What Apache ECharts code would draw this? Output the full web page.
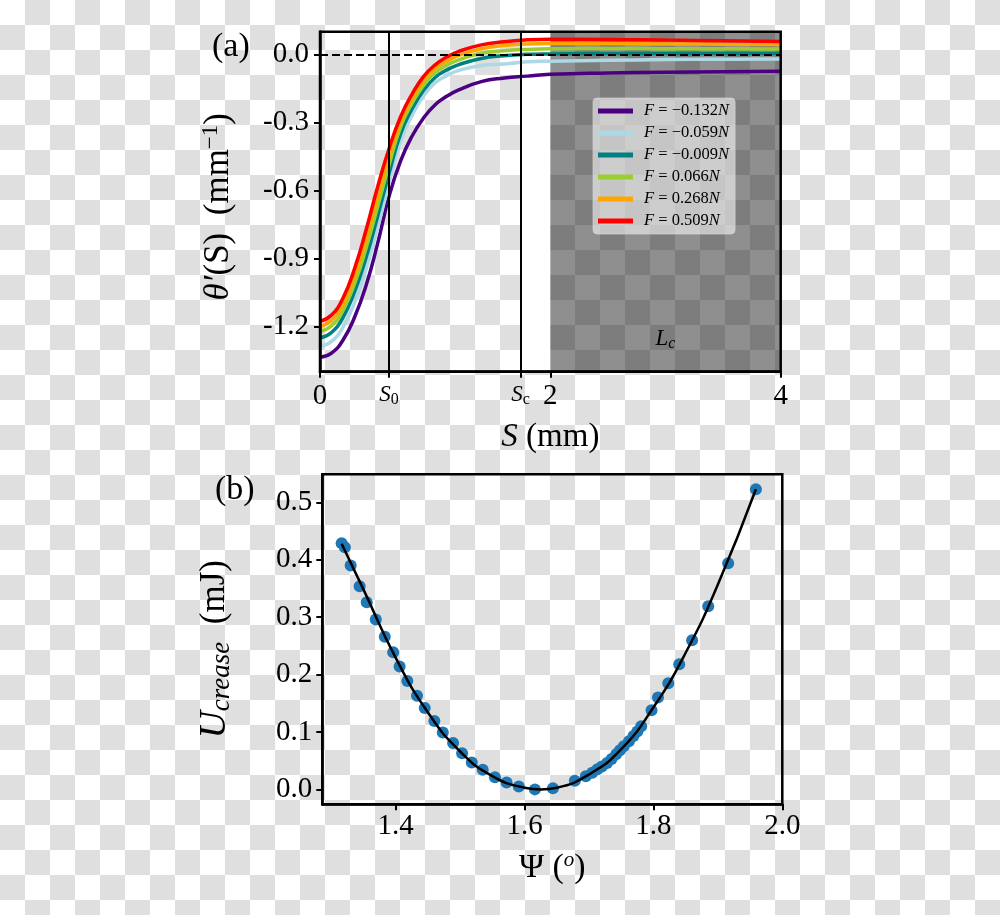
<!DOCTYPE html>
<html><head><meta charset="utf-8">
<script src="https://cdn.jsdelivr.net/npm/echarts@6/dist/echarts.min.js"></script>
<style>
html,body{margin:0;padding:0;}
body{width:1000px;height:915px;background:repeating-conic-gradient(#dfdfdf 0% 25%, #ffffff 0% 50%) 0 0/50px 50px;}
#c{width:1000px;height:915px;}
</style></head><body><div id="c"></div>
<script>
// ---- panel (a) data ----
const sGrid = [0, 0.1, 0.2, 0.3, 0.4, 0.5, 0.6, 0.7, 0.8, 0.9, 1.0, 1.1, 1.2, 1.4, 1.6, 1.8, 2.0, 2.5, 3.0, 3.5, 4.0];
const thetaM0132 = [-1.336, -1.318, -1.260, -1.160, -1.020, -0.835, -0.625, -0.470, -0.360, -0.280, -0.222, -0.185, -0.158, -0.120, -0.104, -0.096, -0.088, -0.082, -0.079, -0.077, -0.075];
const thetaM0059 = [-1.288, -1.266, -1.203, -1.095, -0.948, -0.765, -0.568, -0.382, -0.268, -0.183, -0.125, -0.094, -0.072, -0.049, -0.042, -0.033, -0.030, -0.026, -0.023, -0.021, -0.020];
const thetaM0009 = [-1.251, -1.227, -1.160, -1.048, -0.897, -0.715, -0.525, -0.350, -0.240, -0.158, -0.102, -0.069, -0.046, -0.018, -0.006, 0.000, 0.002, 0.004, 0.004, 0.004, 0.004];
const thetaP0066 = [-1.222, -1.197, -1.128, -1.012, -0.855, -0.672, -0.487, -0.320, -0.215, -0.136, -0.081, -0.048, -0.025, 0.005, 0.016, 0.022, 0.025, 0.026, 0.025, 0.025, 0.024];
const thetaP0268 = [-1.200, -1.173, -1.100, -0.978, -0.815, -0.630, -0.450, -0.298, -0.195, -0.116, -0.062, -0.030, -0.006, 0.025, 0.039, 0.046, 0.048, 0.048, 0.046, 0.045, 0.043];
const thetaP0509 = [-1.178, -1.150, -1.075, -0.945, -0.775, -0.585, -0.415, -0.275, -0.175, -0.097, -0.046, -0.012, 0.012, 0.042, 0.056, 0.064, 0.067, 0.066, 0.063, 0.060, 0.057];
const forceLabels = ['\u22120.132', '\u22120.059', '\u22120.009', '0.066', '0.268', '0.509'];
const curveColors = ['#4b0082', '#add8e6', '#008080', '#9acd32', '#ffa500', '#ff0000'];
const sZero = 0.6;
const sCrit = 1.742;
const aXTickValues = [0, 0.6, 1.742, 2, 4];
const aXTickLabels = ['0', '{it|S}{sub|0}', '{it|S}{sub|c}', '2', '4'];
const aYTickValues = [0, -0.3, -0.6, -0.9, -1.2];

// ---- panel (b) data ----
const psi = [1.316, 1.321, 1.330, 1.344, 1.355, 1.369, 1.383, 1.396, 1.406, 1.418, 1.433, 1.445, 1.460, 1.473, 1.489, 1.503, 1.518, 1.535, 1.554, 1.572, 1.591, 1.616, 1.644, 1.678, 1.695, 1.705, 1.713, 1.720, 1.728, 1.735, 1.742, 1.748, 1.754, 1.762, 1.769, 1.775, 1.781, 1.797, 1.807, 1.823, 1.840, 1.860, 1.885, 1.916, 1.959];
const uCrease = [0.429, 0.422, 0.390, 0.354, 0.326, 0.296, 0.266, 0.239, 0.214, 0.189, 0.163, 0.142, 0.119, 0.099, 0.081, 0.063, 0.047, 0.034, 0.021, 0.012, 0.005, 0.000, 0.002, 0.015, 0.023, 0.029, 0.035, 0.040, 0.046, 0.053, 0.061, 0.068, 0.075, 0.084, 0.093, 0.101, 0.110, 0.138, 0.160, 0.185, 0.218, 0.260, 0.319, 0.394, 0.523];
const psiFit = [1.316, 1.35, 1.40, 1.45, 1.50, 1.55, 1.60, 1.625, 1.65, 1.70, 1.75, 1.80, 1.85, 1.90, 1.959];
const uFit = [0.428, 0.348, 0.229, 0.134, 0.066, 0.023, 0.003, 0.000, 0.003, 0.026, 0.070, 0.143, 0.238, 0.357, 0.523];
const bXTickValues = [1.4, 1.6, 1.8, 2.0];
const bYTickValues = [0, 0.1, 0.2, 0.3, 0.4, 0.5];

const curves = [thetaM0132, thetaM0059, thetaM0009, thetaP0066, thetaP0268, thetaP0509];
const FONT = 'Liberation Serif';
const seriesNames = forceLabels.map(f => 'F = ' + f + 'N');

const chart = echarts.init(document.getElementById('c'), null, {renderer: 'canvas'});

const axisLineStyle = {show: true, onZero: false, lineStyle: {color: '#000', width: 2.5}};
const tickStyle = {length: 6, lineStyle: {color: '#000', width: 2}};

const series = [];
// spans + zero dashed line
series.push({
  type: 'line', xAxisIndex: 0, yAxisIndex: 0, data: [], z: 1, silent: true,
  markArea: {
    silent: true,
    data: [
      [{xAxis: sCrit, yAxis: -1.4, itemStyle: {color: '#ffffff', opacity: 1}}, {xAxis: 2, yAxis: 0.1}],
      [{xAxis: 2, yAxis: -1.4, itemStyle: {color: 'rgba(0,0,0,0.44)', opacity: 1},
        label: {show: true, position: 'insideBottom', distance: 20, formatter: '{it|L}{sub|c}',
          rich: {it: {fontFamily: FONT, fontStyle: 'italic', fontSize: 23, lineHeight: 26, color: '#000'},
                 sub: {fontFamily: FONT, fontStyle: 'italic', fontSize: 16, lineHeight: 14, verticalAlign: 'bottom', color: '#000'}}}},
       {xAxis: 4, yAxis: 0.1}]
    ]
  },
  markLine: {
    silent: true, symbol: 'none', label: {show: false},
    lineStyle: {color: '#000', width: 2, type: [8, 4]},
    data: [[{coord: [0, 0]}, {coord: [4, 0]}]]
  }
});
curves.forEach((arr, i) => {
  series.push({
    type: 'line', name: seriesNames[i], xAxisIndex: 0, yAxisIndex: 0,
    data: sGrid.map((s, j) => [s, arr[j]]),
    smooth: 0.5, showSymbol: false, symbol: 'none',
    lineStyle: {color: curveColors[i], width: 3.5}, itemStyle: {color: curveColors[i]},
    z: 3, silent: true
  });
});
// vertical S0 / Sc lines
series.push({
  type: 'line', xAxisIndex: 0, yAxisIndex: 0, data: [], z: 6, silent: true,
  markLine: {
    silent: true, symbol: 'none', label: {show: false},
    lineStyle: {color: '#000', width: 2, type: 'solid'},
    data: [{xAxis: sZero}, {xAxis: sCrit}]
  }
});
// panel (b)
series.push({
  type: 'scatter', xAxisIndex: 1, yAxisIndex: 1,
  data: psi.map((x, i) => [x, uCrease[i]]),
  symbolSize: 12, itemStyle: {color: '#1f77b4', opacity: 1}, z: 2, silent: true
});
series.push({
  type: 'line', xAxisIndex: 1, yAxisIndex: 1,
  data: psiFit.map((x, i) => [x, uFit[i]]),
  smooth: 0.5, showSymbol: false, symbol: 'none',
  lineStyle: {color: '#000', width: 2.5}, z: 3, silent: true
});

const labelBase = {color: '#000', fontFamily: FONT, fontSize: 29};

const option = {
  animation: false,
  backgroundColor: 'transparent',
  textStyle: {fontFamily: FONT},
  grid: [
    {left: 320, top: 31.7, width: 460.7, height: 340, show: true, borderColor: '#000', borderWidth: 2.5, backgroundColor: 'transparent', z: 10},
    {left: 322.3, top: 474.3, width: 460, height: 330, show: true, borderColor: '#000', borderWidth: 2.5, backgroundColor: 'transparent', z: 10}
  ],
  xAxis: [
    {
      type: 'value', gridIndex: 0, min: 0, max: 4, z: 10,
      axisLine: axisLineStyle,
      axisTick: Object.assign({show: true, customValues: aXTickValues}, tickStyle),
      axisLabel: Object.assign({}, labelBase, {
        margin: 10, customValues: aXTickValues,
        formatter: v => { const k = aXTickValues.findIndex(t => Math.abs(t - v) < 1e-9); return k >= 0 ? aXTickLabels[k] : ''; },
        rich: {
          it: {fontFamily: FONT, fontStyle: 'italic', fontSize: 23, lineHeight: 26, color: '#000'},
          sub: {fontFamily: FONT, fontSize: 16, lineHeight: 12, verticalAlign: 'bottom', color: '#000'}
        }
      }),
      splitLine: {show: false},
      name: '{it|S} (mm)', nameLocation: 'middle', nameGap: 49,
      nameTextStyle: {color: '#000', fontFamily: FONT, fontSize: 33,
        rich: {it: {fontFamily: FONT, fontStyle: 'italic', fontSize: 33, color: '#000'}}}
    },
    {
      type: 'value', gridIndex: 1, min: 1.286, max: 2.0, z: 10,
      axisLine: axisLineStyle,
      axisTick: Object.assign({show: true, customValues: bXTickValues}, tickStyle),
      axisLabel: Object.assign({}, labelBase, {margin: 8, customValues: bXTickValues, formatter: v => v.toFixed(1)}),
      splitLine: {show: false},
      name: '\u03a8 ({it|o})', nameLocation: 'middle', nameGap: 46,
      nameTextStyle: {color: '#000', fontFamily: FONT, fontSize: 34, lineHeight: 36,
        rich: {it: {fontFamily: FONT, fontStyle: 'italic', fontSize: 21, lineHeight: 22, verticalAlign: 'top', color: '#000'}}}
    }
  ],
  yAxis: [
    {
      type: 'value', gridIndex: 0, min: -1.4, max: 0.1, z: 10,
      axisLine: axisLineStyle,
      axisTick: Object.assign({show: true, customValues: aYTickValues}, tickStyle),
      axisLabel: Object.assign({}, labelBase, {margin: 11, customValues: aYTickValues, formatter: v => v.toFixed(1)}),
      splitLine: {show: false},
      name: '{it|\u03b8\u2032}(S)  (mm{sup|\u22121})', nameLocation: 'middle', nameGap: 81, nameRotate: 90,
      nameTextStyle: {color: '#000', fontFamily: FONT, fontSize: 35, lineHeight: 40, padding: [0, 10, 0, 0],
        rich: {
          it: {fontFamily: FONT, fontStyle: 'italic', fontSize: 35, lineHeight: 40, color: '#000'},
          sup: {fontFamily: FONT, fontSize: 23, lineHeight: 22, verticalAlign: 'top', color: '#000'}
        }}
    },
    {
      type: 'value', gridIndex: 1, min: -0.026, max: 0.549, z: 10,
      axisLine: axisLineStyle,
      axisTick: Object.assign({show: true, customValues: bYTickValues}, tickStyle),
      axisLabel: Object.assign({}, labelBase, {margin: 10, customValues: bYTickValues, formatter: v => v.toFixed(1)}),
      splitLine: {show: false},
      name: '{U|U}{sub|crease}  (mJ)', nameLocation: 'middle', nameGap: 87, nameRotate: 90,
      nameTextStyle: {color: '#000', fontFamily: FONT, fontSize: 35, lineHeight: 40, padding: [0, 20, 0, 0],
        rich: {
          U: {fontFamily: FONT, fontStyle: 'italic', fontSize: 38, lineHeight: 40, color: '#000'},
          sub: {fontFamily: FONT, fontStyle: 'italic', fontSize: 27, lineHeight: 24, verticalAlign: 'bottom', color: '#000'}
        }}
    }
  ],
  legend: {
    data: seriesNames, orient: 'vertical', left: 593, top: 98, z: 20,
    padding: [4, 6, 4, 5], itemGap: 4, itemWidth: 35, itemHeight: 5, icon: 'rect',
    backgroundColor: 'rgba(255,255,255,0.55)', borderColor: 'rgba(210,210,210,0.7)', borderWidth: 1, borderRadius: 4,
    selectedMode: false,
    formatter: name => '{i|F} = ' + name.slice(4, -1) + '{i|N}',
    textStyle: {color: '#000', fontFamily: FONT, fontSize: 16.5, lineHeight: 18, padding: [0, 0, 0, 6],
      rich: {i: {fontFamily: FONT, fontStyle: 'italic', fontSize: 16.5, lineHeight: 18, color: '#000'}}}
  },
  graphic: [
    {type: 'text', left: 212, top: 30, style: {text: '(a)', font: '34px "Liberation Serif"', fill: '#000'}},
    {type: 'text', left: 215, top: 473, style: {text: '(b)', font: '34px "Liberation Serif"', fill: '#000'}}
  ],
  series: series
};
chart.setOption(option);
</script></body></html>
